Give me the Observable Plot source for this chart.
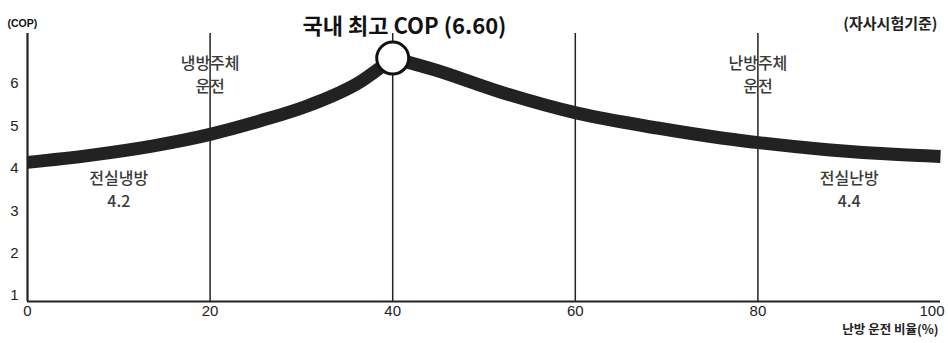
<!DOCTYPE html>
<html>
<head>
<meta charset="utf-8">
<script src="https://cdn.jsdelivr.net/npm/d3@7"></script>
<script src="https://cdn.jsdelivr.net/npm/@observablehq/plot@0.6"></script>
<style>
  html, body { margin: 0; padding: 0; background: #fff; }
</style>
</head>
<body>
<div id="chart"></div>
<script>
// ---- data ----
const titleText = "국내 최고 COP (6.60)";
const yUnit = "(COP)";
const sourceNote = "(자사시험기준)";
const xLabel = "난방 운전 비율(%)";

const xTicks = [0, 20, 40, 60, 80];
const xLastTick = [100];
const yTicks = [1, 2, 3, 4, 5, 6];
const modeLines = [20, 40, 60, 80];

// cooling side (0 -> peak)
const pctLeft = [0, 6.6, 13.8, 20, 25.5, 31, 36.5, 40];
const copLeft = [4.14, 4.30, 4.53, 4.80, 5.12, 5.50, 6.05, 6.60];
// heating side (peak -> 100)
const pctRight = [40, 44.5, 51.8, 60.2, 69, 76.2, 80.3, 87.6, 94.9, 100];
const copRight = [6.60, 6.33, 5.80, 5.30, 4.95, 4.71, 4.60, 4.44, 4.33, 4.28];

const peakPct = [40];
const peakCop = [6.60];

const modeLabels = ["냉방주체\n운전", "난방주체\n운전"];
const modeLabelPct = [20, 80];

const endLabels = ["전실냉방\n4.2", "전실난방\n4.4"];
const endLabelPct = [10, 90];
const endLabelCop = [3.53, 3.53];

// ---- build tables ----
const curve = [
  ...pctLeft.map((x, i) => ({x, y: copLeft[i], side: "cool"})),
  ...pctRight.map((x, i) => ({x, y: copRight[i], side: "heat"}))
];
const peak = peakPct.map((x, i) => ({x, y: peakCop[i]}));
const modes = modeLabels.map((t, i) => ({t, x: modeLabelPct[i]}));
const ends = endLabels.map((t, i) => ({t, x: endLabelPct[i], y: endLabelCop[i]}));

const yDomain = [0.858, 7.18];
const ink = "#222";
const kr = "'Noto Sans CJK KR', 'Liberation Sans', sans-serif";
const lat = "'Liberation Sans', Arial, 'Noto Sans CJK KR', sans-serif";

const chart = Plot.plot({
  width: 948,
  height: 343,
  marginTop: 33,
  marginBottom: 42,
  marginLeft: 27,
  marginRight: 8,
  x: {domain: [0, 100]},
  y: {domain: yDomain},
  style: {fontFamily: lat, background: "#fff", color: ink},
  marks: [
    Plot.axisX({ticks: xTicks, tickSize: 0, tickPadding: 4, fontSize: 15, label: null, fill: ink, tickFormat: d3.format("d")}),
    Plot.axisX({ticks: xLastTick, tickSize: 0, tickPadding: 4, fontSize: 15, label: null, fill: ink, tickFormat: d3.format("d"), textAnchor: "end", dx: 4}),
    Plot.axisY({ticks: yTicks, tickSize: 0, tickPadding: 9, fontSize: 15, label: null, fill: ink, tickFormat: d3.format("d")}),
    Plot.ruleX(modeLines, {stroke: ink, strokeWidth: 1.5}),
    Plot.ruleX([0], {stroke: ink, strokeWidth: 2.2}),
    Plot.ruleY([yDomain[0]], {stroke: ink, strokeWidth: 2.2}),
    Plot.line(curve, {x: "x", y: "y", z: "side", curve: "monotone-x", stroke: ink, strokeWidth: 13, strokeLinecap: "butt"}),
    Plot.dot(peak, {x: "x", y: "y", r: 16, fill: "#fff", stroke: "#111", strokeWidth: 3}),
    Plot.text(modes, {x: "x", text: "t", frameAnchor: "top", dy: 19, lineAnchor: "top", lineHeight: 1.45, fontSize: 16, fontFamily: kr, fontWeight: 500, fill: "#3a3a3a", textAnchor: "middle"}),
    Plot.text(ends, {x: "x", y: "y", text: "t", lineAnchor: "middle", lineHeight: 1.4, fontSize: 16, fontFamily: kr, fontWeight: 500, fill: "#3a3a3a"}),
    Plot.text([titleText], {frameAnchor: "top-left", dx: 377, dy: -15, textAnchor: "middle", fontSize: 22, fontWeight: "bold", fontFamily: kr, fill: "#111"}),
    Plot.text([yUnit], {frameAnchor: "top-left", dx: -20, dy: -14, textAnchor: "start", fontSize: 10.5, fontWeight: "bold", fill: "#111", letterSpacing: -0.5}),
    Plot.text([sourceNote], {frameAnchor: "top-right", dx: -3, dy: -15, textAnchor: "end", fontSize: 15, fontWeight: "bold", fontFamily: kr, fill: "#222"}),
    Plot.text([xLabel], {frameAnchor: "bottom-right", dx: -2, dy: 32, textAnchor: "end", fontSize: 12.5, fontWeight: "bold", fontFamily: kr, fill: "#222"})
  ]
});
document.getElementById("chart").append(chart);
</script>
</body>
</html>
